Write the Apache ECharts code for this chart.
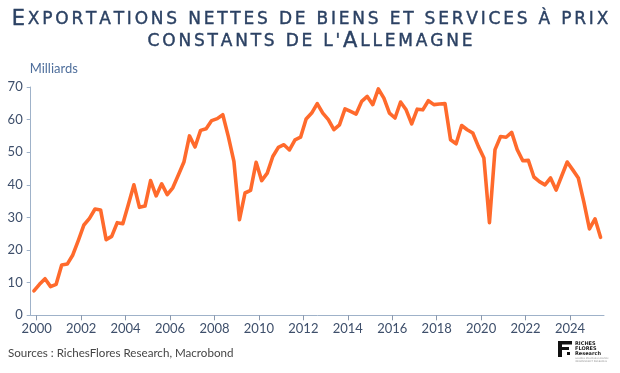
<!DOCTYPE html>
<html>
<head>
<meta charset="utf-8">
<script src="https://cdn.jsdelivr.net/npm/echarts@6/dist/echarts.min.js"></script>
<style>
html,body{margin:0;padding:0;background:#fff;}
#chart{width:620px;height:373px;}
</style>
</head>
<body>
<div id="chart"></div>
<script>
// Quarterly series, first quarter = 1999 Q4, last = 2025 Q2
var firstYear = 1999, firstQuarter = 4;
var values = [
  7.5, 9.5, 11.2, 8.8, 9.5, 15.4, 15.7, 18.5, 23.0, 27.7,
  29.7, 32.6, 32.3, 23.2, 24.2, 28.4, 28.1, 34.0, 40.0, 33.1,
  33.5, 41.3, 36.6, 40.3, 37.0, 39.1, 43.0, 47.0, 55.0, 51.6,
  56.7, 57.2, 59.7, 60.3, 61.5, 54.8, 47.2, 29.3, 37.5, 38.3,
  46.9, 41.3, 43.6, 48.7, 51.5, 52.3, 50.7, 53.8, 54.6, 60.2,
  62.0, 64.9, 62.0, 60.0, 56.9, 58.4, 63.3, 62.5, 61.7, 65.6,
  67.1, 64.6, 69.4, 66.6, 62.0, 60.5, 65.4, 63.0, 58.7, 63.2,
  63.0, 65.8, 64.6, 64.8, 64.9, 53.8, 52.6, 58.2, 56.9, 55.9,
  51.8, 48.2, 28.4, 50.8, 54.8, 54.6, 56.1, 50.8, 47.4, 47.5,
  42.4, 41.0, 40.0, 42.1, 38.4, 42.7, 47.0, 44.6, 42.1, 34.7,
  26.5, 29.6, 23.9
];
var yearTicks = [2000, 2002, 2004, 2006, 2008, 2010, 2012, 2014, 2016, 2018, 2020, 2022, 2024];
var titleLine1 = [['b', 'E'], ['s', 'XPORTATIONS NETTES DE BIENS ET SERVICES À PRIX']];
var titleLine2 = [['s', 'CONSTANTS DE L\''], ['b', 'A'], ['s', 'LLEMAGNE']];

// quarter mid-points as fractional years
var points = [];
for (var i = 0; i < values.length; i++) {
  var q = firstQuarter - 1 + i;
  var yr = firstYear + Math.floor(q / 4);
  var qi = q % 4;
  points.push([yr + qi * 0.25 + 0.125, values[i]]);
}

// letter-spaced small-caps rendering via rich tokens
function spaced(parts) {
  var out = '';
  parts.forEach(function (p) {
    for (var k = 0; k < p[1].length; k++) {
      out += '{' + p[0] + '|' + p[1][k] + '}';
    }
  });
  return out;
}

var chart = echarts.init(document.getElementById('chart'), null, {renderer: 'canvas'});
var titleColor = '#2b4163';
var axisLabelColor = '#3e4f6b';
var option = {
  animation: false,
  backgroundColor: '#ffffff',
  title: {
    left: 'center',
    top: 4,
    text: spaced(titleLine1) + '\n' + spaced(titleLine2),
    textStyle: {
      fontWeight: 'normal',
      rich: {
        b: {fontFamily: 'DejaVu Sans', fontWeight: 'normal', fontSize: 21, color: titleColor, lineHeight: 22, padding: [0, 1.4, 0, 1.4], textBorderColor: titleColor, textBorderWidth: 0.4},
        s: {fontFamily: 'DejaVu Sans', fontWeight: 'normal', fontSize: 17, color: titleColor, lineHeight: 22, padding: [0, 1.4, 0, 1.4], textBorderColor: titleColor, textBorderWidth: 0.4}
      }
    }
  },
  grid: {left: 30.7, right: 16, top: 87, bottom: 57.7, containLabel: false},
  xAxis: {
    type: 'value',
    min: 1999.73,
    max: 2025.53,
    splitLine: {show: false},
    axisLine: {show: true, onZero: false, lineStyle: {color: '#9fb2c9', width: 1}},
    axisTick: {show: true, customValues: yearTicks, length: 5, lineStyle: {color: '#8a98ad'}},
    axisLabel: {
      customValues: yearTicks,
      color: axisLabelColor,
      fontFamily: 'Lato',
      fontSize: 13,
      margin: 7,
      formatter: function (v) { return String(Math.round(v)); }
    }
  },
  yAxis: {
    type: 'value',
    min: 0,
    max: 70,
    interval: 10,
    name: 'Milliards',
    nameLocation: 'end',
    nameGap: 12,
    nameTextStyle: {color: '#4f6f9c', fontFamily: 'Lato', fontSize: 13, align: 'left', padding: [0, 0, 0, -1]},
    splitLine: {show: false},
    axisLine: {show: true, lineStyle: {color: '#9fb2c9', width: 1}},
    axisTick: {show: true, length: 4, lineStyle: {color: '#9fb2c9'}},
    axisLabel: {color: axisLabelColor, fontFamily: 'Lato', fontSize: 13, margin: 8}
  },
  series: [{
    type: 'line',
    data: points,
    showSymbol: false,
    symbol: 'none',
    lineStyle: {color: '#ff6a2c', width: 3.6, join: 'round', cap: 'round'},
    itemStyle: {color: '#ff6a2c'}
  }],
  graphic: [
    {
      type: 'text', left: 8, top: 347,
      style: {text: 'Sources : RichesFlores Research, Macrobond', fill: '#454545', font: '11.6px Lato'}
    },
    {
      type: 'group', left: 558, top: 341,
      children: [
        {type: 'rect', shape: {x: 0, y: 0, width: 4, height: 16}, style: {fill: '#111'}},
        {type: 'rect', shape: {x: 4, y: 0, width: 10, height: 3.5}, style: {fill: '#111'}},
        {type: 'rect', shape: {x: 4, y: 6, width: 7, height: 3}, style: {fill: '#111'}},
        {type: 'rect', shape: {x: 9, y: 11, width: 3, height: 3}, style: {fill: '#111'}},
        {type: 'text', x: 17, y: 0, style: {text: 'RICHES\nFLORES\nResearch', fill: '#222', font: 'bold 5px "DejaVu Sans"', lineHeight: 5}},
        {type: 'text', x: 17, y: 16, style: {text: 'GLOBAL MACROECONOMIC\nINDEPENDENT RESEARCH', fill: '#999', font: '2.5px "DejaVu Sans"', lineHeight: 3}}
      ]
    }
  ]
};
chart.setOption(option);
</script>
</body>
</html>
